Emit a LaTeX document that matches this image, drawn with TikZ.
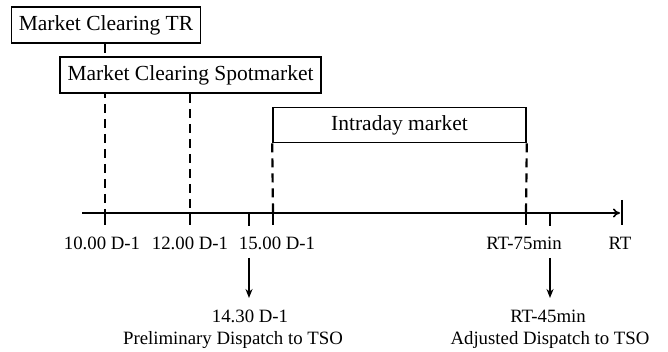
\documentclass[tikz,border=0pt]{standalone}
\usepackage{fontspec}
\setmainfont{Liberation Serif}
\usetikzlibrary{arrows.meta}

\begin{document}
\begin{tikzpicture}[x=1pt, y=-1pt, line width=1.6pt,
	box/.style = {draw, fill=white, inner sep=0pt, font=\fontsize{21.5}{23}\selectfont},
	lbl/.style = {font=\fontsize{18.8}{20}\selectfont, inner sep=0pt},
	tick/.style = {line width=2.2pt},
	dashline/.style = {line width=2.2pt, dash pattern=on 9pt off 6pt}]
	\useasboundingbox (0,0) rectangle (668,352);
	% time axis
	\coordinate (s) at (82,213);
	\coordinate (e) at (620,213);
	\draw[-{To[length=7pt,width=9pt]}] (s) -- (e);
	\coordinate (a) at (105,213);
	\coordinate (alo) at (105,225);
	\coordinate (b) at (190,213);
	\coordinate (blo) at (190,225);
	\coordinate (c) at (273,213);
	\coordinate (clo) at (273,225);
	\coordinate (d) at (526,213);
	\coordinate (dlo) at (526,225);
	\coordinate (fup) at (622,200);
	\coordinate (flo) at (622,225);
	\coordinate (p) at (249,213);
	\coordinate (plo) at (249,226);
	\coordinate (q) at (550,213);
	\coordinate (qlo) at (550,226);
	\draw[tick] (a) -- (alo);
	\draw[tick] (b) -- (blo);
	\draw[tick] (c) -- (clo);
	\draw[tick] (d) -- (dlo);
	\draw[tick] (fup) -- (flo);
	\draw[tick] (p) -- (plo);
	\draw[tick] (q) -- (qlo);
	% boxes
	\node[box, minimum width=189pt, minimum height=36pt] (tr) at (106,25) {Market Clearing TR};
	\draw[dashline] (tr.south -| a) -- (a);
	\node[box, minimum width=261pt, minimum height=36pt] (spot) at (190.5,75) {Market Clearing Spotmarket};
	\node[box, minimum width=253pt, minimum height=35pt] (intra) at (399.5,125) {Intraday market};
	\draw[dashline] (spot.south -| b) -- (b);
	\draw[dashline] (intra.south west) -- (c);
	\draw[dashline] (intra.south east) -- (d);
	% labels
	\node[lbl] (la) at (102,243) {10.00 D-1};
	\node[lbl] (lb) at (190,243) {12.00 D-1};
	\node[lbl] (lc) at (277,243) {15.00 D-1};
	\node[lbl] (ld) at (524,243) {RT-75min};
	\node[lbl] (lf) at (620,243) {RT};
	% dispatch
	\coordinate (p1) at (249,258);
	\coordinate (p2) at (249,298);
	\coordinate (q1) at (550,258);
	\coordinate (q2) at (550,298);
	\draw[-{Stealth[length=9pt,width=7pt]}] (p1) -- (p2);
	\draw[-{Stealth[length=9pt,width=7pt]}] (q1) -- (q2);
	\node[lbl] (lp) at (250,316) {14.30 D-1};
	\node[lbl] (lq) at (548,316) {RT-45min};
	\node[lbl] (dp) at (233,340) {Preliminary Dispatch to TSO};
	\node[lbl] (dq) at (550,340) {Adjusted Dispatch to TSO};
\end{tikzpicture}
\end{document}
